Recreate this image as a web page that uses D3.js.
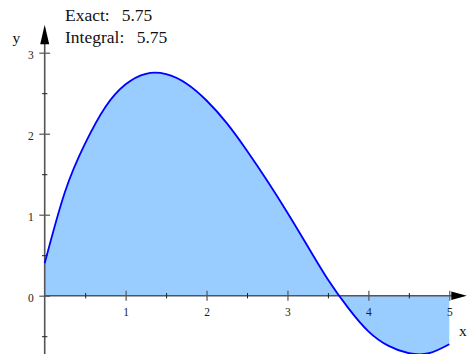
<!DOCTYPE html>
<html>
<head>
<meta charset="utf-8">
<script src="https://cdn.jsdelivr.net/npm/d3@7"></script>
<style>
  html, body { margin: 0; padding: 0; background: #fff; }
  svg { display: block; font-family: "Liberation Serif", "Times New Roman", serif; }
</style>
</head>
<body>
<svg id="chart" width="467" height="354"></svg>
<script>
// Sampled function values f(x) on [0, 5]
const xValues = [0, 0.25, 0.5, 0.75, 1, 1.25, 1.5, 1.75, 2, 2.25, 2.5, 2.75, 3, 3.25, 3.5, 3.75, 4, 4.25, 4.5, 4.75, 5];
const yValues = [0.40, 1.28, 1.88, 2.33, 2.61, 2.74, 2.735, 2.62, 2.41, 2.13, 1.79, 1.42, 1.025, 0.61, 0.20, -0.15, -0.44, -0.62, -0.71, -0.71, -0.60];

// Axis ticks
const xMajorTicks = [1, 2, 3, 4, 5];
const xMinorTicks = [0.5, 1.5, 2.5, 3.5, 4.5];
const yMajorTicks = [0, 1, 2, 3];
const yMinorTicks = [-0.5, 0.5, 1.5, 2.5];

// Annotation
const noteLabels = ["Exact:", "Integral:"];
const noteValues = ["5.75", "5.75"];

const svg = d3.select("#chart");

const x = d3.scaleLinear().domain([0, 5]).range([44.7, 449.3]);
const y = d3.scaleLinear().domain([0, 3]).range([295.7, 52.7]);

const data = xValues.map((v, i) => ({ x: v, y: yValues[i] }));

// Filled region between the curve and the x-axis
const area = d3.area()
  .x(d => x(d.x))
  .y0(y(0))
  .y1(d => y(d.y))
  .curve(d3.curveNatural);

svg.append("path")
  .datum(data)
  .attr("d", area)
  .attr("fill", "#99ccff")
  .attr("stroke", "none");

const axisColor = "#555";
const serif = "Liberation Serif, Times New Roman, serif";

// x-axis with major and minor ticks
const xAxisG = svg.append("g").attr("transform", `translate(0,${y(0)})`);
xAxisG.append("line")
  .attr("x1", x(0)).attr("x2", x(5) + 4)
  .attr("stroke", axisColor).attr("stroke-width", 1.6);

const xMajor = xAxisG.append("g").call(d3.axisBottom(x).tickValues(xMajorTicks).tickFormat(d3.format("d")));
xMajor.select(".domain").remove();
xMajor.selectAll(".tick line").attr("y1", -5).attr("y2", 5).attr("stroke", axisColor).attr("stroke-width", 1.2);
xMajor.selectAll(".tick text")
  .attr("y", 20.5).attr("dy", null)
  .attr("font-size", 11.5).attr("font-family", serif).attr("fill", "#222");

const xMinor = xAxisG.append("g").call(d3.axisBottom(x).tickValues(xMinorTicks).tickFormat(""));
xMinor.select(".domain").remove();
xMinor.selectAll(".tick line").attr("y1", -2.7).attr("y2", 2.7).attr("stroke", "#222").attr("stroke-width", 1);

// x-axis arrow head
svg.append("path")
  .attr("d", `M${x(5) + 2},${y(0) - 4.3} L${x(5) + 17.5},${y(0)} L${x(5) + 2},${y(0) + 4.3} Z`)
  .attr("fill", "#000");

// y-axis with major and minor ticks
const yAxisG = svg.append("g").attr("transform", `translate(${x(0)},0)`);
yAxisG.append("line")
  .attr("y1", 354).attr("y2", y(3) - 10)
  .attr("stroke", axisColor).attr("stroke-width", 1.6);

const yMajor = yAxisG.append("g").call(d3.axisLeft(y).tickValues(yMajorTicks).tickFormat(d3.format("d")));
yMajor.select(".domain").remove();
yMajor.selectAll(".tick line").attr("x1", -5.4).attr("x2", 5.4).attr("stroke", axisColor).attr("stroke-width", 1.2);
yMajor.selectAll(".tick text")
  .attr("x", -11).attr("dy", "0.48em")
  .attr("font-size", 11.5).attr("font-family", serif).attr("fill", "#222");

const yMinor = yAxisG.append("g").call(d3.axisLeft(y).tickValues(yMinorTicks).tickFormat(""));
yMinor.select(".domain").remove();
yMinor.selectAll(".tick line").attr("x1", -2.7).attr("x2", 2.7).attr("stroke", "#222").attr("stroke-width", 1);

// y-axis arrow head
svg.append("path")
  .attr("d", `M${x(0) - 4.5},${y(3) - 8.5} L${x(0)},${y(3) - 28} L${x(0) + 4.5},${y(3) - 8.5} Z`)
  .attr("fill", "#000");

// Function graph
const line = d3.line()
  .x(d => x(d.x))
  .y(d => y(d.y))
  .curve(d3.curveNatural);

svg.append("path")
  .datum(data)
  .attr("d", line)
  .attr("fill", "none")
  .attr("stroke", "#0000ff")
  .attr("stroke-width", 1.8);

// Axis names
svg.append("text").attr("x", 12.5).attr("y", 43).attr("font-size", 15.5).attr("fill", "#111").text("y");
svg.append("text").attr("x", 459).attr("y", 336).attr("font-size", 15.5).attr("fill", "#111").text("x");

// Annotation text: label and value on each line
const note = svg.append("g").attr("font-size", 17.5).attr("fill", "#111");
const noteRows = [
  { label: noteLabels[0], value: noteValues[0], base: 21, valueX: 121.7 },
  { label: noteLabels[1], value: noteValues[1], base: 43.3, valueX: 136.7 }
];
noteRows.forEach(r => {
  note.append("text").attr("x", 65).attr("y", r.base).text(r.label);
  note.append("text").attr("x", r.valueX).attr("y", r.base).text(r.value);
});
</script>
</body>
</html>
